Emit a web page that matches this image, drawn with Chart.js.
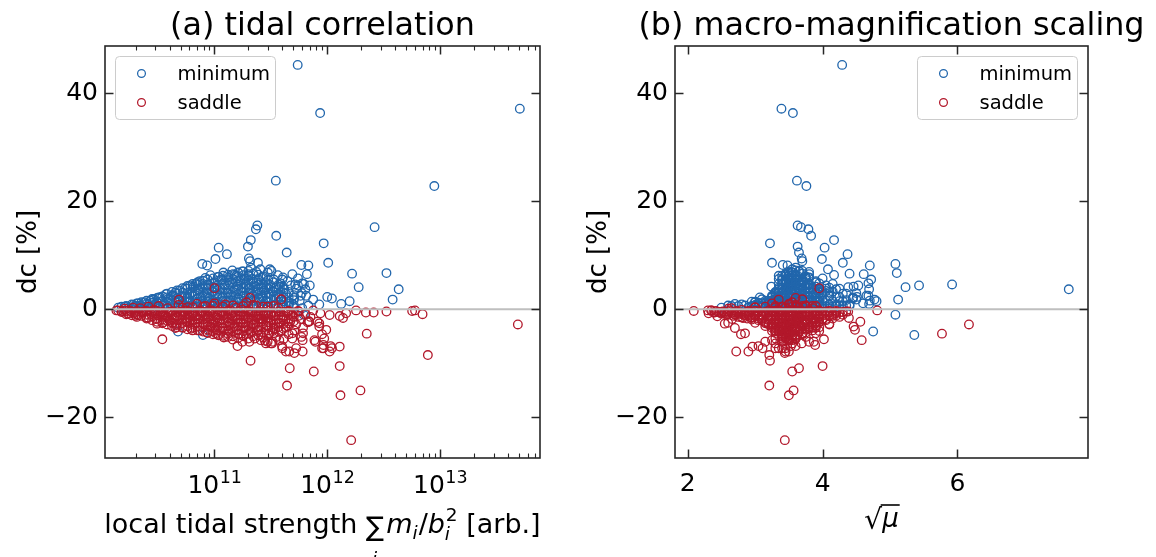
<!DOCTYPE html>
<html>
<head>
<meta charset="utf-8">
<script src="https://cdn.jsdelivr.net/npm/chart.js@4.4.0/dist/chart.umd.min.js"></script>
<style>
  html, body { margin: 0; padding: 0; background: #fff; }
  #wrap { position: relative; width: 1156px; height: 557px; overflow: hidden; }
  canvas { position: absolute; top: 0; }
  #tidal { left: 0; }
  #macro { left: 578px; }
</style>
</head>
<body>
<div id="wrap">
  <canvas id="tidal" width="578" height="557"></canvas>
  <canvas id="macro" width="578" height="557"></canvas>
</div>
<script>
// ---- data: every lens has one dc value and two x values ----
// "minimum" images: dc [%], local tidal strength, sqrt(mu)
const minDc = [
  45.2, 37.1, 36.3, 23.8, 22.8, 15.5, 15.2, 14.8, 13.6, 12.8,
  12.2, 11.6, 11.4, 10.5, 10.2, 9.4, 9.3, 8.9, 8.6, 8.4,
  8.6, 8.1, 8.2, 8.1, 7.4, 6.5, 6.6, 6.7, 6.35, 5.5,
  4.8, 4.4, 4.6, 4.1, 3.7, 1.8, 2.3, 2.0, 1.0, 1.5,
  1.8, 0.9, -4.1, -4.75, -1.0, 4.4, 4.2, 4.1, 2.5, 3.7,
  4.2, 2.2, 1.85,
  0.3, 0.5, 0.2, 0.8, 0.6, 1.1,
  0.4, 1.3, 0.9, 1.6, 0.2, 1.0,
  2.2, 1.5, 0.7, 2.8, 1.9, 1.1, 2.5, 0.4, 3.1,
  1.7, 3.5, 2.4, 0.9, 3.9, 2.0, 1.3, 4.4, 3.0, 0.5, 2.7, 4.8, 1.9,
  3.6, 5.2, 2.3, 4.1, 1.1, 5.8, 3.0, 4.6, 2.0, 6.3, 3.3, 1.5, 5.0, 4.0, 2.6, 6.0, 0.8,
  3.8, 5.5, 2.2, 6.8, 4.4, 1.4, 3.1, 5.9, 4.9, 2.7, 7.2, 0.9, 3.6, 6.2, 4.2, 1.8, 5.3,
  3.4, 7.0, 2.5, 5.7, 4.6, 1.2, 6.5, 3.9, 7.7, 2.9, 5.1, 0.6, 4.3, 6.9, 3.2, 5.6, 1.9, 7.4, 4.0, 2.3,
  6.1, 3.5, 5.0, 1.5, 6.8, 2.8, 4.5, 7.1, 3.3, 5.5, 0.9, 4.1, 6.3, 2.4, 4.8, 1.8, 5.9, 3.7,
  2.9, 5.2, 1.1, 4.4, 6.5, 2.1, 3.8, 5.7, 1.6, 3.0, 4.7, 2.5, 0.7,
  0.3, 0.6, 0.4, 0.2, 0.5, 0.3, 0.8, 0.4, 0.2, 1.0, 0.7, 0.3, 1.4, 1.2, 1.6
];
const minTidal = [
  5.47e11, 5.1e13, 8.65e11, 3.5e11, 8.9e12, 2.4e11, 2.63e12, 2.33e11, 3.53e11, 2.1e11,
  9.3e11, 1.98e11, 1.09e11, 4.37e11, 1.29e11, 2.02e11, 1.02e11, 2.07e11, 1.02e12, 7.8e10,
  2.43e11, 8.6e10, 5.9e11, 6.8e11, 3.1e11, 6.6e11, 1.66e12, 3.35e12, 1.5e11, 4.0e11,
  6.0e11, 7.0e11, 5.2e11, 1.9e12, 4.3e12, 3.8e12, 1.0e12, 1.1e12, 1.33e12, 1.58e12,
  7.5e11, 8.5e11, 4.75e10, 7.9e10, 6.2e11, 5.5e11, 3.8e11, 2.9e11, 5.8e11, 6.4e11,
  6.5e10, 3.3e10, 2.9e10,
  1.4e10, 1.6e10, 1.7e10, 1.9e10, 2.0e10, 2.1e10,
  2.3e10, 2.4e10, 2.6e10, 2.7e10, 2.8e10, 3.0e10,
  3.2e10, 3.4e10, 3.5e10, 3.7e10, 3.9e10, 4.1e10, 4.3e10, 4.4e10, 4.5e10,
  4.7e10, 4.9e10, 5.1e10, 5.3e10, 5.5e10, 5.7e10, 5.9e10, 6.1e10, 6.3e10, 6.5e10, 6.7e10, 6.9e10, 7.0e10,
  7.2e10, 7.4e10, 7.6e10, 7.9e10, 8.1e10, 8.3e10, 8.5e10, 8.8e10, 9.0e10, 9.2e10, 9.5e10, 9.8e10, 1.0e11, 1.03e11, 1.06e11, 1.09e11, 1.1e11,
  1.12e11, 1.15e11, 1.18e11, 1.2e11, 1.23e11, 1.26e11, 1.3e11, 1.33e11, 1.37e11, 1.4e11, 1.44e11, 1.48e11, 1.52e11, 1.56e11, 1.6e11, 1.64e11, 1.68e11,
  1.72e11, 1.76e11, 1.8e11, 1.85e11, 1.9e11, 1.95e11, 2.0e11, 2.05e11, 2.1e11, 2.15e11, 2.2e11, 2.25e11, 2.3e11, 2.35e11, 2.4e11, 2.45e11, 2.5e11, 2.55e11, 2.6e11, 2.65e11,
  2.7e11, 2.75e11, 2.82e11, 2.9e11, 2.97e11, 3.05e11, 3.12e11, 3.2e11, 3.28e11, 3.36e11, 3.45e11, 3.55e11, 3.65e11, 3.75e11, 3.85e11, 3.95e11, 4.05e11, 4.15e11,
  4.3e11, 4.45e11, 4.6e11, 4.75e11, 4.9e11, 5.1e11, 5.3e11, 5.5e11, 5.7e11, 5.95e11, 6.2e11, 6.5e11, 6.8e11,
  5.0e10, 8.0e10, 1.2e11, 1.6e11, 2.2e11, 3.0e11, 4.0e11, 5.0e11, 6.0e11, 3.6e10, 2.2e10, 3.3e10, 6.0e10, 9.5e10, 1.35e11
];
const minSqrtMu = [
  4.29, 3.39, 3.56, 3.62, 3.76, 3.63, 3.68, 3.79, 3.83, 4.17,
  3.22, 3.63, 4.03, 3.65, 4.37, 3.69, 3.99, 3.70, 3.25, 5.08,
  4.30, 4.70, 3.41, 3.48, 4.08, 4.61, 4.40, 5.10, 4.17, 4.72,
  4.68, 5.43, 5.92, 5.23, 7.65, 5.12, 4.51, 4.45, 4.69, 4.80,
  4.77, 4.2, 4.75, 5.36, 5.08, 4.53, 4.46, 4.38, 4.68, 4.69,
  3.24, 3.07, 3.10,
  2.9, 3.1, 3.3, 3.0, 3.4, 3.2,
  3.5, 3.3, 2.8, 3.6, 3.7, 3.45,
  3.5, 3.3, 3.0, 3.55, 3.7, 3.4, 3.25, 3.9, 3.6,
  3.8, 3.45, 3.65, 3.2, 3.5, 3.35, 3.75, 3.6, 3.4, 3.9, 3.7, 3.5, 3.3,
  3.55, 3.45, 3.8, 3.65, 3.1, 3.5, 3.9, 3.6, 3.4, 3.55, 3.75, 3.25, 3.7, 3.35, 4.0, 3.6, 3.5,
  3.85, 3.4, 3.65, 3.5, 3.7, 3.95, 3.3, 3.8, 3.55, 3.45, 3.6, 4.1, 3.7, 3.35, 3.9, 3.6, 3.5,
  4.05, 3.65, 3.4, 3.75, 3.55, 3.85, 3.45, 3.95, 3.6, 3.3, 3.7, 4.2, 3.5, 3.8, 4.1, 3.6, 3.9, 3.55, 3.75, 4.25,
  3.45, 3.95, 3.65, 4.3, 3.55, 4.0, 3.8, 3.7, 4.15, 3.6, 4.4, 3.85, 3.5, 4.1, 3.95, 4.5, 3.75, 4.2,
  4.35, 3.9, 4.6, 4.05, 3.8, 4.45, 4.25, 4.0, 4.7, 4.5, 4.15, 4.65, 4.35,
  3.0, 3.2, 3.35, 3.15, 3.5, 3.65, 3.8, 3.95, 4.1, 2.7, 2.6, 2.5, 2.95, 3.05, 3.15
];

// dense core of the "minimum" cloud, one line per tidal-strength column
const minCoreDc = [
  0.5,
  0.6,
  0.4, 0.9,
  0.5, 1.1,
  0.6, 1.3,
  0.5, 1.0, 1.6,
  0.6, 1.2, 1.9,
  0.5, 1.3, 2.1,
  0.7, 1.5, 2.4,
  0.6, 1.4, 2.2, 2.9,
  0.8, 1.6, 2.5, 3.2,
  0.5, 1.3, 2.1, 2.9, 3.5,
  0.7, 1.5, 2.3, 3.1, 3.9,
  0.6, 1.4, 2.2, 3.0, 3.8, 4.3,
  0.8, 1.6, 2.4, 3.2, 4.0, 4.7,
  0.5, 1.3, 2.1, 2.9, 3.7, 4.5, 5.0,
  0.7, 1.5, 2.3, 3.1, 3.9, 4.7, 5.3,
  0.6, 1.4, 2.2, 3.0, 3.8, 4.6, 5.5,
  0.8, 1.6, 2.4, 3.2, 4.0, 4.8, 5.7,
  0.5, 1.3, 2.1, 2.9, 3.7, 4.5, 5.3, 6.0,
  0.7, 1.5, 2.3, 3.1, 3.9, 4.7, 5.5, 6.2,
  0.6, 1.4, 2.2, 3.0, 3.8, 4.6, 5.4, 6.4,
  0.8, 1.6, 2.4, 3.2, 4.0, 4.8, 5.6, 6.5,
  0.5, 1.3, 2.1, 2.9, 3.7, 4.5, 5.3, 6.1, 6.8,
  0.7, 1.5, 2.3, 3.1, 3.9, 4.7, 5.5, 6.3, 7.0,
  0.6, 1.4, 2.2, 3.0, 3.8, 4.6, 5.4, 6.2, 7.1,
  0.8, 1.6, 2.4, 3.2, 4.0, 4.8, 5.6, 6.6,
  0.5, 1.3, 2.1, 2.9, 3.7, 4.5, 5.3, 6.4,
  0.7, 1.5, 2.3, 3.1, 3.9, 4.7, 5.8,
  0.6, 1.4, 2.2, 3.0, 3.8, 4.6, 5.5,
  0.8, 1.6, 2.4, 3.2, 4.0, 5.0,
  0.5, 1.3, 2.1, 2.9, 3.7, 4.6,
  0.7, 1.5, 2.3, 3.1, 4.0,
  0.6, 1.4, 2.2, 3.2,
  0.8, 1.7, 2.6
];
const minCoreTidal = [
  1.5e10,
  1.65e10,
  1.85e10, 1.85e10,
  2.05e10, 2.05e10,
  2.25e10, 2.25e10,
  2.5e10, 2.5e10, 2.5e10,
  2.8e10, 2.8e10, 2.8e10,
  3.1e10, 3.1e10, 3.1e10,
  3.45e10, 3.45e10, 3.45e10,
  3.8e10, 3.8e10, 3.8e10, 3.8e10,
  4.2e10, 4.2e10, 4.2e10, 4.2e10,
  4.65e10, 4.65e10, 4.65e10, 4.65e10, 4.65e10,
  5.2e10, 5.2e10, 5.2e10, 5.2e10, 5.2e10,
  5.75e10, 5.75e10, 5.75e10, 5.75e10, 5.75e10, 5.75e10,
  6.4e10, 6.4e10, 6.4e10, 6.4e10, 6.4e10, 6.4e10,
  7.1e10, 7.1e10, 7.1e10, 7.1e10, 7.1e10, 7.1e10, 7.1e10,
  7.9e10, 7.9e10, 7.9e10, 7.9e10, 7.9e10, 7.9e10, 7.9e10,
  8.7e10, 8.7e10, 8.7e10, 8.7e10, 8.7e10, 8.7e10, 8.7e10,
  9.7e10, 9.7e10, 9.7e10, 9.7e10, 9.7e10, 9.7e10, 9.7e10,
  1.07e11, 1.07e11, 1.07e11, 1.07e11, 1.07e11, 1.07e11, 1.07e11, 1.07e11,
  1.19e11, 1.19e11, 1.19e11, 1.19e11, 1.19e11, 1.19e11, 1.19e11, 1.19e11,
  1.32e11, 1.32e11, 1.32e11, 1.32e11, 1.32e11, 1.32e11, 1.32e11, 1.32e11,
  1.46e11, 1.46e11, 1.46e11, 1.46e11, 1.46e11, 1.46e11, 1.46e11, 1.46e11,
  1.62e11, 1.62e11, 1.62e11, 1.62e11, 1.62e11, 1.62e11, 1.62e11, 1.62e11, 1.62e11,
  1.8e11, 1.8e11, 1.8e11, 1.8e11, 1.8e11, 1.8e11, 1.8e11, 1.8e11, 1.8e11,
  2.0e11, 2.0e11, 2.0e11, 2.0e11, 2.0e11, 2.0e11, 2.0e11, 2.0e11, 2.0e11,
  2.2e11, 2.2e11, 2.2e11, 2.2e11, 2.2e11, 2.2e11, 2.2e11, 2.2e11,
  2.45e11, 2.45e11, 2.45e11, 2.45e11, 2.45e11, 2.45e11, 2.45e11, 2.45e11,
  2.7e11, 2.7e11, 2.7e11, 2.7e11, 2.7e11, 2.7e11, 2.7e11,
  3.0e11, 3.0e11, 3.0e11, 3.0e11, 3.0e11, 3.0e11, 3.0e11,
  3.35e11, 3.35e11, 3.35e11, 3.35e11, 3.35e11, 3.35e11,
  3.7e11, 3.7e11, 3.7e11, 3.7e11, 3.7e11, 3.7e11,
  4.1e11, 4.1e11, 4.1e11, 4.1e11, 4.1e11,
  4.55e11, 4.55e11, 4.55e11, 4.55e11,
  5.05e11, 5.05e11, 5.05e11
];
const minCoreSqrtMu = [
  3.2,
  3.5,
  2.9, 3.4,
  3.7, 3.3,
  3.1, 3.55,
  3.9, 3.25, 3.6,
  2.75, 3.45, 3.3,
  4.0, 3.15, 3.55,
  3.35, 3.8, 3.4,
  3.05, 3.6, 3.75, 3.45,
  3.65, 3.2, 3.5, 3.6,
  4.15, 3.45, 3.85, 3.35, 3.55,
  2.85, 3.7, 3.3, 3.6, 3.45,
  3.55, 3.0, 3.65, 3.4, 3.7, 3.5,
  3.95, 3.35, 3.5, 3.8, 3.4, 3.6,
  3.3, 3.9, 3.45, 3.55, 3.65, 3.4, 3.7,
  4.25, 3.5, 3.75, 3.35, 3.5, 3.6, 3.45,
  2.95, 3.65, 3.25, 3.7, 3.45, 3.55, 3.6,
  3.6, 4.05, 3.55, 3.45, 3.8, 3.4, 3.5,
  3.15, 3.4, 3.95, 3.6, 3.35, 3.75, 3.55, 3.65,
  3.85, 3.3, 3.6, 3.9, 3.55, 3.45, 3.7, 3.5,
  2.65, 3.55, 3.35, 3.45, 3.85, 3.6, 3.4, 3.6,
  4.1, 3.75, 3.5, 3.3, 3.65, 3.8, 3.5, 3.45,
  3.45, 3.0, 3.7, 3.55, 3.4, 3.5, 3.65, 3.75, 3.55,
  3.7, 3.95, 3.25, 3.75, 3.6, 3.35, 3.45, 3.6, 3.5,
  4.3, 3.5, 3.85, 3.4, 3.5, 3.7, 3.6, 3.4, 3.65,
  3.25, 3.65, 3.45, 4.0, 3.75, 3.55, 3.35, 3.7,
  3.9, 3.2, 3.6, 3.5, 3.95, 3.8, 3.7, 3.45,
  3.55, 4.15, 3.9, 3.65, 3.45, 3.6, 3.8,
  4.4, 3.8, 3.35, 3.85, 4.05, 3.65, 3.55,
  3.65, 4.0, 4.2, 3.55, 3.75, 3.9,
  4.05, 3.7, 3.95, 4.3, 3.6, 3.7,
  3.85, 4.25, 3.75, 3.95, 4.1,
  4.2, 3.9, 4.45, 3.8,
  4.0, 4.35, 4.1
];

// "saddle" images: dc [%], local tidal strength, sqrt(mu)
const sadDc = [
  -24.2, -15.9, -15.0, -14.1, -11.5, -10.9, -10.5, -9.5, -8.46, -2.8,
  -5.55, -4.5, -4.6, -3.45, -2.65, -7.8, -7.8, -6.9, -7.2, -8.1,
  -6.8, -6.3, -6.6, -6.0, -5.7, -3.8, -3.2, -2.3, -1.6, -0.4,
  -0.2, -0.3, -0.75, -0.2, -0.9, -0.6, -0.6, -1.25, -1.05, -5.4,
  -7.2, -7.2, -2.3, -0.75, -5.7, -5.4, -7.2, -7.8, -5.7, -6.0,
  -5.7, -6.0, -6.8, -4.45, 3.9, 2.1, 1.85, 1.8, -6.3, -6.8,
  -7.8, -5.1, -4.45, -4.45, -6.0, -7.2, -2.6, -2.2, -3.2, -4.0,
  -0.2, -0.5, 0.1, -0.8, -0.3, 0.3, -0.6,
  -1.1, 0.2, -0.4, -1.5, 0.5, -0.9, -0.1,
  -1.8, 0.6, -0.7, -2.4, -1.2, 0.2, -2.0, -0.4, -1.6,
  -2.9, 0.8, -1.0, -3.3, -0.3, -2.2, 0.4, -1.5, -3.6, -0.8, -2.6, 1.0,
  -1.9, -3.9, -0.5, -2.8, 0.6, -4.3, -1.3, -3.2, -0.2, -2.3, 1.1, -3.7, -1.0, -4.8,
  -2.0, -0.4, -3.5, -5.2, 0.9, -1.6, -4.0, -2.7, -0.8, -5.6, -3.1, 0.3, -1.9, -4.5,
  -2.4, -0.1, -5.0, -3.3, 1.3, -1.4, -6.0, -4.2, -0.6, -2.9, -5.4, 0.7, -3.8, -1.8, -4.7, -2.2,
  -0.9, -5.8, -3.0, 0.5, -4.4, -2.0, -6.3, -1.2, -3.6, -5.1, 0.2, -2.6, -4.0, -1.5, -5.5,
  -3.3, -0.5, -4.6, -2.2, -1.0, -3.9, -2.8, -0.3, -1.8, -3.4, -0.9, -2.4, -1.4, -0.2,
  -0.2, -0.3, -0.5, -0.4, -0.6, -0.3, -0.5, -0.7, -0.4, -1.1, -1.3, -1.0, -0.7, -1.2, -2.5,
  -0.3, -0.8, -1.2, -0.5, -1.6, -0.2, -0.9, -1.4, -0.6, -1.1, -0.4, -1.8,
  -0.7, -1.3, -0.3, -1.0, -0.5, -1.5, -0.8, -0.2, -1.2, -0.6, -1.7, -0.9
];
const sadTidal = [
  1.63e12, 1.31e12, 1.97e12, 4.4e11, 7.6e11, 4.65e11, 1.29e12, 2.09e11, 7.8e12, 4.9e13,
  3.45e10, 2.24e12, 9.0e11, 4.5e10, 3.1e10, 4.3e11, 1.05e12, 1.29e12, 4.0e11, 5.1e11,
  1.07e12, 3.17e11, 9.25e11, 3.28e11, 7.7e11, 9.8e11, 8.5e11, 8.2e11, 1.38e12, 3.35e12,
  6.0e12, 5.66e12, 1.47e12, 1.8e12, 7.0e12, 2.58e12, 2.2e12, 1.29e12, 1.05e12, 9.4e11,
  1.1e12, 9.0e11, 6.9e11, 8.7e11, 6.05e11, 4.9e11, 5.3e11, 6.05e11, 3.76e11, 2.96e11,
  2.58e11, 1.77e11, 1.6e11, 1.03e11, 1.0e11, 2.07e11, 3.9e11, 4.85e10, 2.86e11, 3.97e11,
  4.6e11, 5.9e11, 4.9e11, 6.1e11, 7.85e11, 9.25e11, 8.5e11, 6.9e11, 4.5e11, 3.28e11,
  1.35e10, 1.5e10, 1.6e10, 1.7e10, 1.8e10, 1.9e10, 2.0e10,
  2.1e10, 2.2e10, 2.35e10, 2.5e10, 2.6e10, 2.75e10, 2.9e10,
  3.05e10, 3.2e10, 3.35e10, 3.5e10, 3.7e10, 3.85e10, 4.0e10, 4.2e10, 4.4e10,
  4.6e10, 4.8e10, 5.0e10, 5.2e10, 5.4e10, 5.6e10, 5.8e10, 6.0e10, 6.2e10, 6.5e10, 6.8e10, 7.0e10,
  7.2e10, 7.4e10, 7.7e10, 8.0e10, 8.3e10, 8.6e10, 8.9e10, 9.2e10, 9.5e10, 9.8e10, 1.0e11, 1.03e11, 1.06e11, 1.09e11,
  1.12e11, 1.15e11, 1.18e11, 1.21e11, 1.25e11, 1.29e11, 1.33e11, 1.37e11, 1.41e11, 1.45e11, 1.5e11, 1.55e11, 1.6e11, 1.65e11,
  1.7e11, 1.75e11, 1.8e11, 1.86e11, 1.92e11, 1.98e11, 2.04e11, 2.1e11, 2.16e11, 2.22e11, 2.28e11, 2.35e11, 2.42e11, 2.5e11, 2.58e11, 2.65e11,
  2.72e11, 2.8e11, 2.88e11, 2.96e11, 3.05e11, 3.14e11, 3.24e11, 3.34e11, 3.44e11, 3.55e11, 3.66e11, 3.78e11, 3.9e11, 4.0e11, 4.1e11,
  4.25e11, 4.4e11, 4.55e11, 4.7e11, 4.9e11, 5.1e11, 5.3e11, 5.5e11, 5.8e11, 6.1e11, 6.4e11, 6.7e11, 7.1e11, 7.5e11,
  1.4e10, 2.5e10, 4.0e10, 6.0e10, 9.0e10, 1.3e11, 2.0e11, 3.0e11, 4.5e11, 1.2e11, 2.4e11, 5.5e10, 3.0e10, 1.8e11, 4.3e10,
  1.55e10, 1.75e10, 2.0e10, 2.3e10, 2.6e10, 2.95e10, 3.3e10, 3.6e10, 4.1e10, 4.5e10, 5.1e10, 5.6e10,
  6.3e10, 6.9e10, 7.6e10, 8.4e10, 9.3e10, 1.05e11, 1.25e11, 1.4e11, 1.7e11, 2.1e11, 2.6e11, 3.2e11
];
const sadSqrtMu = [
  3.44, 3.50, 3.57, 3.21, 3.55, 3.65, 4.00, 3.22, 3.21, 6.17,
  4.02, 5.77, 2.79, 2.70, 2.55, 2.72, 2.90, 2.96, 3.11, 3.44,
  3.53, 3.69, 3.89, 3.87, 4.58, 4.48, 4.46, 4.56, 4.39, 4.38,
  4.81, 2.09, 2.31, 2.35, 3.9, 3.75, 4.1, 3.95, 4.05, 3.6,
  3.45, 3.35, 3.85, 4.2, 3.5, 3.4, 3.3, 3.45, 3.55, 3.4,
  3.25, 3.15, 3.05, 2.85, 3.95, 3.6, 3.7, 3.35, 3.3, 3.6,
  3.5, 3.75, 3.7, 3.9, 3.8, 3.4, 3.55, 3.65, 3.45, 3.3,
  2.35, 2.45, 2.6, 2.75, 2.9, 3.0, 2.55,
  2.85, 2.65, 3.05, 2.95, 3.15, 3.25, 2.8,
  3.1, 3.3, 2.9, 3.35, 3.0, 3.45, 3.2, 3.55, 2.95,
  3.4, 3.6, 3.1, 3.5, 3.25, 3.65, 3.0, 3.45, 3.3, 3.7, 3.15, 3.5,
  3.55, 3.4, 3.8, 3.2, 3.6, 3.45, 3.0, 3.7, 3.35, 3.9, 3.25, 3.55, 3.1, 3.4,
  3.75, 3.3, 3.6, 3.45, 3.5, 3.85, 3.25, 3.55, 4.0, 3.5, 3.15, 3.65, 3.4, 3.7,
  3.95, 3.35, 3.6, 3.45, 3.55, 3.8, 3.4, 3.65, 3.2, 3.5, 3.3, 3.75, 3.55, 4.05, 3.45, 3.6,
  3.7, 3.5, 3.9, 3.4, 3.3, 3.6, 3.55, 4.1, 3.75, 3.45, 3.85, 3.5, 3.95, 3.65, 3.6,
  3.8, 4.2, 3.7, 3.95, 4.3, 3.85, 4.1, 3.6, 4.0, 3.9, 4.15, 3.75, 4.25, 3.95,
  3.2, 3.3, 3.4, 3.5, 3.6, 3.55, 3.45, 3.65, 3.75, 3.35, 3.5, 2.7, 2.5, 3.6, 2.6,
  2.42, 2.55, 2.68, 2.47, 2.82, 2.3, 2.6, 2.75, 2.38, 2.9, 2.52, 2.66,
  2.85, 2.44, 2.72, 2.58, 2.95, 2.8, 2.5, 2.62, 2.92, 2.78, 2.88, 2.7
];

// dense core of the "saddle" cloud, one line per tidal-strength column
const sadCoreDc = [
  -0.4,
  -0.3, -0.9,
  -0.5, -1.1,
  -0.3, -0.9, -1.4,
  -0.6, -1.2,
  -0.4, -1.0, -1.7,
  -0.6, -1.3, -2.0,
  -0.3, -1.0, -1.7, -2.3,
  -0.5, -1.2, -1.9, -2.6,
  -0.7, -1.4, -2.1, -2.8,
  -0.4, -1.1, -1.8, -2.5, -3.1,
  -0.6, -1.3, -2.0, -2.7, -3.3,
  0.3, -0.5, -1.2, -1.9, -2.6, -3.4,
  -0.3, -1.0, -1.7, -2.4, -3.1, -3.7,
  0.4, -0.6, -1.3, -2.0, -2.7, -3.4, -3.9,
  -0.4, -1.1, -1.8, -2.5, -3.2, -3.9,
  0.5, -0.5, -1.2, -1.9, -2.6, -3.3, -4.1,
  -0.3, -1.0, -1.7, -2.4, -3.1, -3.8, -4.4,
  0.6, -0.6, -1.3, -2.0, -2.7, -3.4, -4.1, -4.6,
  -0.4, -1.1, -1.8, -2.5, -3.2, -3.9, -4.7,
  0.5, -0.5, -1.2, -1.9, -2.6, -3.3, -4.0, -4.9,
  -0.3, -1.0, -1.7, -2.4, -3.1, -3.8, -4.5, -5.1,
  0.7, -0.6, -1.3, -2.0, -2.7, -3.4, -4.1, -5.0,
  -0.4, -1.1, -1.8, -2.5, -3.2, -3.9, -4.6, -5.3,
  0.6, -0.5, -1.2, -1.9, -2.6, -3.3, -4.0, -4.8,
  -0.3, -1.0, -1.7, -2.4, -3.1, -3.8, -4.5, -5.4,
  0.8, -0.6, -1.3, -2.0, -2.7, -3.4, -4.2, -5.0,
  -0.4, -1.1, -1.8, -2.5, -3.2, -3.9, -4.8,
  0.5, -0.5, -1.2, -1.9, -2.6, -3.3, -4.3, -5.2,
  -0.3, -1.0, -1.7, -2.4, -3.1, -3.9, -4.7,
  0.6, -0.6, -1.3, -2.0, -2.7, -3.5, -4.4,
  -0.4, -1.1, -1.8, -2.5, -3.3, -4.1,
  -0.5, -1.2, -1.9, -2.7, -3.6,
  -0.3, -1.0, -1.8, -2.6,
  -0.6, -1.4, -2.2,
  -0.4, -1.2
];
const sadCoreTidal = [
  1.5e10,
  1.65e10, 1.65e10,
  1.85e10, 1.85e10,
  2.05e10, 2.05e10, 2.05e10,
  2.25e10, 2.25e10,
  2.5e10, 2.5e10, 2.5e10,
  2.8e10, 2.8e10, 2.8e10,
  3.1e10, 3.1e10, 3.1e10, 3.1e10,
  3.45e10, 3.45e10, 3.45e10, 3.45e10,
  3.8e10, 3.8e10, 3.8e10, 3.8e10,
  4.2e10, 4.2e10, 4.2e10, 4.2e10, 4.2e10,
  4.65e10, 4.65e10, 4.65e10, 4.65e10, 4.65e10,
  5.2e10, 5.2e10, 5.2e10, 5.2e10, 5.2e10, 5.2e10,
  5.75e10, 5.75e10, 5.75e10, 5.75e10, 5.75e10, 5.75e10,
  6.4e10, 6.4e10, 6.4e10, 6.4e10, 6.4e10, 6.4e10, 6.4e10,
  7.1e10, 7.1e10, 7.1e10, 7.1e10, 7.1e10, 7.1e10,
  7.9e10, 7.9e10, 7.9e10, 7.9e10, 7.9e10, 7.9e10, 7.9e10,
  8.7e10, 8.7e10, 8.7e10, 8.7e10, 8.7e10, 8.7e10, 8.7e10,
  9.7e10, 9.7e10, 9.7e10, 9.7e10, 9.7e10, 9.7e10, 9.7e10, 9.7e10,
  1.07e11, 1.07e11, 1.07e11, 1.07e11, 1.07e11, 1.07e11, 1.07e11,
  1.19e11, 1.19e11, 1.19e11, 1.19e11, 1.19e11, 1.19e11, 1.19e11, 1.19e11,
  1.32e11, 1.32e11, 1.32e11, 1.32e11, 1.32e11, 1.32e11, 1.32e11, 1.32e11,
  1.46e11, 1.46e11, 1.46e11, 1.46e11, 1.46e11, 1.46e11, 1.46e11, 1.46e11,
  1.62e11, 1.62e11, 1.62e11, 1.62e11, 1.62e11, 1.62e11, 1.62e11, 1.62e11,
  1.8e11, 1.8e11, 1.8e11, 1.8e11, 1.8e11, 1.8e11, 1.8e11, 1.8e11,
  2.0e11, 2.0e11, 2.0e11, 2.0e11, 2.0e11, 2.0e11, 2.0e11, 2.0e11,
  2.2e11, 2.2e11, 2.2e11, 2.2e11, 2.2e11, 2.2e11, 2.2e11, 2.2e11,
  2.45e11, 2.45e11, 2.45e11, 2.45e11, 2.45e11, 2.45e11, 2.45e11,
  2.7e11, 2.7e11, 2.7e11, 2.7e11, 2.7e11, 2.7e11, 2.7e11, 2.7e11,
  3.0e11, 3.0e11, 3.0e11, 3.0e11, 3.0e11, 3.0e11, 3.0e11,
  3.35e11, 3.35e11, 3.35e11, 3.35e11, 3.35e11, 3.35e11, 3.35e11,
  3.7e11, 3.7e11, 3.7e11, 3.7e11, 3.7e11, 3.7e11,
  4.1e11, 4.1e11, 4.1e11, 4.1e11, 4.1e11,
  4.55e11, 4.55e11, 4.55e11, 4.55e11,
  5.05e11, 5.05e11, 5.05e11,
  5.6e11, 5.6e11
];
const sadCoreSqrtMu = [
  2.6,
  3.0, 2.8,
  2.5, 3.1,
  3.35, 2.9, 3.2,
  2.7, 3.4,
  3.5, 3.0, 3.25,
  2.4, 3.3, 3.05,
  3.6, 2.85, 3.4, 3.15,
  3.15, 3.55, 2.95, 3.35,
  2.65, 3.1, 3.5, 3.25,
  3.7, 3.2, 3.35, 3.0, 3.45,
  3.25, 3.65, 3.1, 3.4, 3.3,
  3.3, 2.75, 3.45, 3.6, 3.2, 3.5,
  3.8, 3.35, 3.05, 3.5, 3.4, 3.35,
  3.45, 3.15, 3.7, 3.3, 3.55, 3.25, 3.45,
  2.9, 3.5, 3.25, 3.75, 3.35, 3.55,
  3.55, 3.9, 3.1, 3.4, 3.6, 3.5, 3.35,
  3.25, 3.75, 3.5, 3.15, 3.45, 3.65, 3.5,
  3.7, 3.4, 3.95, 3.55, 3.3, 3.4, 3.6, 3.45,
  4.05, 3.3, 3.65, 3.85, 3.5, 3.3, 3.55,
  3.4, 3.6, 3.45, 3.2, 3.7, 3.6, 3.4, 3.5,
  3.0, 3.85, 3.35, 3.6, 3.25, 3.75, 3.45, 3.4,
  3.6, 4.1, 3.55, 3.4, 3.8, 3.5, 3.65, 3.55,
  3.5, 3.2, 3.9, 3.5, 3.6, 3.35, 3.5, 3.45,
  3.85, 3.7, 3.6, 3.75, 3.4, 3.7, 3.3, 3.6,
  4.2, 3.5, 3.35, 3.95, 3.55, 3.45, 3.7, 3.5,
  3.5, 3.3, 3.8, 3.6, 3.7, 3.85, 3.5, 3.4,
  3.95, 3.65, 4.0, 3.45, 3.8, 3.55, 3.45,
  3.75, 4.3, 3.5, 3.85, 3.3, 3.6, 3.75, 3.55,
  3.65, 3.9, 4.15, 3.55, 3.9, 3.4, 3.6,
  3.9, 3.55, 3.75, 4.05, 3.65, 3.8, 3.5,
  4.35, 4.0, 3.6, 3.7, 3.95, 3.45,
  3.8, 4.2, 3.85, 4.1, 3.7,
  4.1, 3.7, 4.0, 3.9,
  4.25, 3.95, 3.75,
  3.85, 4.15
];

// axes
const dcTicks = [-20, 0, 20, 40];
const tidalTicks = [1e11, 1e12, 1e13];
const tidalTickExps = ['11', '12', '13'];
const muTicks = [2, 4, 6];
const seriesNames = ['minimum', 'saddle'];

const BLUE = '#2166ac';
const RED = '#b2182b';
const FONT = "'DejaVu Sans', sans-serif";
const INK = '#000';

function pts(xs, ys) {
  return ys.map((y, i) => ({ x: xs[i], y }));
}

function dataset(label, xs, ys, color, order) {
  return {
    label, data: pts(xs, ys), order,
    borderColor: color, backgroundColor: 'rgba(0,0,0,0)',
    pointRadius: 4.3, pointHoverRadius: 4.3, borderWidth: 1.3, pointStyle: 'circle'
  };
}

function line(ctx, x1, y1, x2, y2) {
  ctx.beginPath(); ctx.moveTo(x1, y1); ctx.lineTo(x2, y2); ctx.stroke();
}

// minor ticks of the log axis (2..9 x 10^n)
const tidalMinor = [];
[10, 11, 12, 13].forEach(d => {
  for (let k = 2; k <= 9; k++) tidalMinor.push(k * Math.pow(10, d));
});

const decor = {
  id: 'decor',
  afterDatasetsDraw(chart, args, o) {
    const { ctx, chartArea: a } = chart;
    const xs = chart.scales.x, ys = chart.scales.y;
    ctx.save();
    // zero line
    ctx.strokeStyle = '#bfbfbf';
    ctx.lineWidth = 2;
    const y0 = ys.getPixelForValue(0);
    line(ctx, a.left, y0, a.right, y0);

    // inward ticks on all four sides
    ctx.strokeStyle = '#262626';
    ctx.lineWidth = 1.5;
    dcTicks.forEach(v => {
      const p = Math.round(ys.getPixelForValue(v)) + 0.5;
      line(ctx, a.left, p, a.left + 8.5, p);
      line(ctx, a.right, p, a.right - 8.5, p);
    });
    o.xMajor.forEach(v => {
      const p = Math.round(xs.getPixelForValue(v)) + 0.5;
      line(ctx, p, a.bottom, p, a.bottom - 8.5);
      line(ctx, p, a.top, p, a.top + 8.5);
    });
    ctx.lineWidth = 1.1;
    (o.xMinor || []).forEach(v => {
      if (v < xs.min || v > xs.max) return;
      const p = Math.round(xs.getPixelForValue(v)) + 0.5;
      line(ctx, p, a.bottom, p, a.bottom - 4.5);
      line(ctx, p, a.top, p, a.top + 4.5);
    });

    // frame
    ctx.lineWidth = 1.6;
    ctx.strokeRect(a.left, a.top, a.right - a.left, a.bottom - a.top);

    // legend
    const w = 160, h = 63;
    const bx = o.legendLeft ? a.left + 10.5 : a.right - 10.5 - w;
    const by = a.top + 10.5;
    ctx.beginPath();
    ctx.roundRect(bx, by, w, h, 4);
    ctx.fillStyle = 'rgba(255,255,255,0.8)';
    ctx.fill();
    ctx.strokeStyle = '#cccccc';
    ctx.lineWidth = 1;
    ctx.stroke();
    [BLUE, RED].forEach((c, i) => {
      const cy = by + 17 + i * 29;
      ctx.strokeStyle = c;
      ctx.lineWidth = 1.25;
      ctx.beginPath();
      ctx.arc(bx + 26, cy, 3.9, 0, Math.PI * 2);
      ctx.stroke();
      ctx.fillStyle = INK;
      ctx.font = '19.5px ' + FONT;
      ctx.textAlign = 'left';
      ctx.textBaseline = 'alphabetic';
      ctx.fillText(seriesNames[i], bx + 62, cy + 6.5);
    });
    ctx.restore();
  },
  afterDraw(chart, args, o) {
    const { ctx, chartArea: a } = chart;
    ctx.save();
    ctx.fillStyle = INK;
    // title
    ctx.font = '31.8px ' + FONT;
    ctx.textAlign = 'center';
    ctx.textBaseline = 'alphabetic';
    ctx.fillText(o.title, (a.left + a.right) / 2 + o.titleShift, 35);

    // y label
    ctx.save();
    ctx.translate(o.yLabelX, (a.top + a.bottom) / 2);
    ctx.rotate(-Math.PI / 2);
    ctx.font = '26px ' + FONT;
    ctx.fillText('dc [%]', 0, 0);
    ctx.restore();

    o.xLabel(ctx, chart);
    ctx.restore();
  }
};

function drawTidalTicks(ctx, chart) {
  const xs = chart.scales.x;
  ctx.textBaseline = 'alphabetic';
  ctx.textAlign = 'left';
  tidalTicks.forEach((v, i) => {
    const p = xs.getPixelForValue(v);
    ctx.font = '25px ' + FONT;
    const w1 = ctx.measureText('10').width;
    ctx.font = '17.5px ' + FONT;
    const w2 = ctx.measureText(tidalTickExps[i]).width;
    const x0 = p - (w1 + w2) / 2;
    ctx.font = '25px ' + FONT;
    ctx.fillText('10', x0, 493);
    ctx.font = '17.5px ' + FONT;
    ctx.fillText(tidalTickExps[i], x0 + w1 + 0.5, 483);
  });
}

function drawTidalLabel(ctx, chart) {
  drawTidalTicks(ctx, chart);
  const a = chart.chartArea;
  const cx = (a.left + a.right) / 2;
  const base = 533;
  const rm = '27px ' + FONT, it = 'italic 27px ' + FONT, sm = 'italic 18.5px ' + FONT, smr = '18.5px ' + FONT;
  ctx.textAlign = 'left';
  ctx.textBaseline = 'alphabetic';
  const wid = (t, f) => { ctx.font = f; return ctx.measureText(t).width; };
  const w = [
    wid('local tidal strength ', rm), wid('\u2211', rm) + 2, wid('m', it), wid('i', sm) + 1,
    wid('/', rm), wid('b', it), wid('2', smr) + 1, wid(' [arb.]', rm)
  ];
  let x = cx - w.reduce((s, v) => s + v, 0) / 2;
  ctx.font = rm; ctx.fillText('local tidal strength ', x, base); x += w[0];
  ctx.font = rm; ctx.fillText('\u2211', x, base + 3);
  ctx.font = sm; ctx.fillText('i', x + w[1] / 2 - 4, base + 32);
  x += w[1];
  ctx.font = it; ctx.fillText('m', x, base); x += w[2];
  ctx.font = sm; ctx.fillText('i', x, base + 6); x += w[3];
  ctx.font = rm; ctx.fillText('/', x, base); x += w[4];
  ctx.font = it; ctx.fillText('b', x, base); x += w[5];
  ctx.font = smr; ctx.fillText('2', x + 1, base - 12);
  ctx.font = sm; ctx.fillText('i', x, base + 7); x += w[6];
  ctx.font = rm; ctx.fillText(' [arb.]', x, base);
}

function drawMuLabel(ctx, chart) {
  const a = chart.chartArea;
  const cx = (a.left + a.right) / 2;
  const base = 527;
  ctx.textAlign = 'left';
  ctx.textBaseline = 'alphabetic';
  ctx.font = '28px ' + FONT;
  const wr = ctx.measureText('\u221a').width;
  ctx.font = 'italic 26px ' + FONT;
  const wm = ctx.measureText('\u03bc').width;
  let x = cx - (wr + wm) / 2;
  ctx.font = '28px ' + FONT;
  ctx.fillText('\u221a', x, base + 2);
  ctx.font = 'italic 26px ' + FONT;
  ctx.fillText('\u03bc', x + wr, base);
  ctx.strokeStyle = INK;
  ctx.lineWidth = 1.6;
  line(ctx, x + wr - 1.5, 505, x + wr + wm + 1, 505);
}

const tickFont = { family: FONT, size: 25 };
const dcAxis = (width) => ({
  type: 'linear', min: -27.5, max: 48.7,
  grid: { display: false, drawTicks: false }, border: { display: false },
  ticks: {
    stepSize: 20, includeBounds: false, padding: 7, color: INK, font: tickFont,
    callback: v => (v < 0 ? '\u2212' + Math.abs(v) : String(v))
  },
  afterFit: s => { s.width = width; }
});

function baseOptions(scales, layoutRight, decorOpts) {
  return {
    responsive: false, animation: false, devicePixelRatio: 1,
    layout: { padding: { left: 0, right: layoutRight, top: 46, bottom: 0 } },
    scales,
    plugins: { legend: { display: false }, tooltip: { enabled: false }, decor: decorOpts },
    events: []
  };
}

const allMinDc = minDc.concat(minCoreDc);
const allSadDc = sadDc.concat(sadCoreDc);

new Chart(document.getElementById('tidal'), {
  type: 'scatter',
  data: {
    datasets: [
      dataset(seriesNames[0], minTidal.concat(minCoreTidal), allMinDc, BLUE, 1),
      dataset(seriesNames[1], sadTidal.concat(sadCoreTidal), allSadDc, RED, 0)
    ]
  },
  options: baseOptions({
    x: {
      type: 'logarithmic', min: 1.07e10, max: 7.7e13,
      grid: { display: false, drawTicks: false }, border: { display: false },
      ticks: { display: false },
      afterFit: s => { s.height = 99; }
    },
    y: dcAxis(105)
  }, 38, {
    title: '(a) tidal correlation', titleShift: 0, yLabelX: 36, legendLeft: true,
    xMajor: tidalTicks, xMinor: tidalMinor, xLabel: drawTidalLabel
  }),
  plugins: [decor]
});

new Chart(document.getElementById('macro'), {
  type: 'scatter',
  data: {
    datasets: [
      dataset(seriesNames[0], minSqrtMu.concat(minCoreSqrtMu), allMinDc, BLUE, 1),
      dataset(seriesNames[1], sadSqrtMu.concat(sadCoreSqrtMu), allSadDc, RED, 0)
    ]
  },
  options: baseOptions({
    x: {
      type: 'linear', min: 1.812, max: 7.935,
      grid: { display: false, drawTicks: false }, border: { display: false },
      ticks: { stepSize: 2, includeBounds: false, padding: 11, color: INK, font: tickFont },
      afterFit: s => { s.height = 99; }
    },
    y: dcAxis(97)
  }, 68, {
    title: '(b) macro-magnification scaling', titleShift: 10, yLabelX: 28, legendLeft: false,
    xMajor: muTicks, xMinor: [], xLabel: drawMuLabel
  }),
  plugins: [decor]
});
</script>
</body>
</html>
